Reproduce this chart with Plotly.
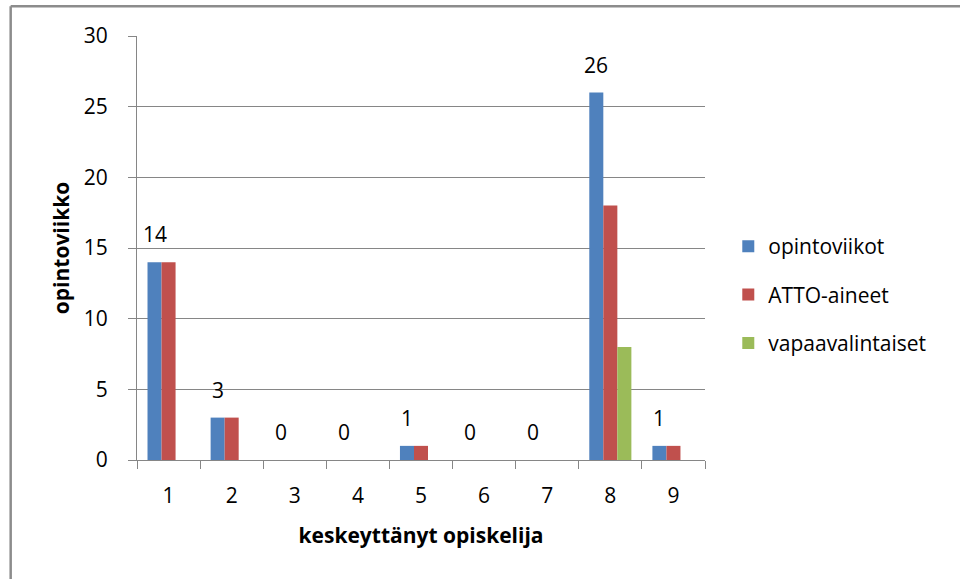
import plotly.graph_objects as go

categories = ["1", "2", "3", "4", "5", "6", "7", "8", "9"]
opintoviikot = [14, 3, 0, 0, 1, 0, 0, 26, 1]
atto_aineet = [14, 3, 0, 0, 1, 0, 0, 18, 1]
vapaavalintaiset = [0, 0, 0, 0, 0, 0, 0, 8, 0]
series_names = ["opintoviikot", "ATTO-aineet", "vapaavalintaiset"]
colors = ["#4F81BD", "#C0504D", "#9BBB59"]
y_ticks = [0, 5, 10, 15, 20, 25, 30]

FONT = "Open Sans"
GRAY = "#868686"

fig = go.Figure()
for i, (name, vals) in enumerate(zip(series_names, [opintoviikot, atto_aineet, vapaavalintaiset])):
    fig.add_trace(go.Bar(
        x=categories, y=vals, name=name,
        marker=dict(color=colors[i], line=dict(width=0)),
        legendgroup=name,
    ))

annotations = []
for idx, v in enumerate(opintoviikot):
    annotations.append(dict(
        x=idx, y=v, xref="x", yref="y", text=str(v), showarrow=False,
        xanchor="center", yanchor="bottom", xshift=-14, yshift=12,
        font=dict(family=FONT, size=21, color="#000000"),
    ))

fig.update_layout(
    width=960, height=579,
    margin=dict(l=137, r=255, t=36, b=119, autoexpand=False),
    paper_bgcolor="white", plot_bgcolor="white",
    barmode="group", bargap=0.333, bargroupgap=0,
    font=dict(family=FONT, size=21, color="#000000"),
    showlegend=True,
    legend=dict(
        x=1.041, xanchor="left", y=0.39, yanchor="middle",
        font=dict(family=FONT, size=21, color="#000000"),
        tracegroupgap=18, bgcolor="rgba(0,0,0,0)",
    ),
    annotations=annotations,
    shapes=[
        dict(type="line", xref="paper", yref="paper", x0=-0.2224, x1=2.0, y0=1.0703, y1=1.0703,
             line=dict(color="#8C8C8C", width=2.5)),
        dict(type="line", xref="paper", yref="paper", x0=-0.2224, x1=-0.2224, y0=1.0703, y1=-1.0,
             line=dict(color="#8C8C8C", width=2.5)),
    ],
)

fig.update_xaxes(
    type="category", categoryorder="array", categoryarray=categories,
    showline=True, linecolor=GRAY, linewidth=1,
    ticks="outside", tickson="boundaries", ticklen=8, tickcolor=GRAY,
    ticklabelstandoff=17,
    tickfont=dict(family=FONT, size=21, color="#000000"),
    showgrid=False, zeroline=False,
    title=dict(text="<b>keskeyttänyt opiskelija</b>", standoff=20,
               font=dict(family=FONT, size=21, color="#000000")),
    automargin=False,
)
fig.update_yaxes(
    range=[0, 30], tickvals=y_ticks,
    showline=True, linecolor=GRAY, linewidth=1,
    ticks="outside", ticklen=8, tickcolor=GRAY,
    ticklabelstandoff=16,
    tickfont=dict(family=FONT, size=21, color="#000000"),
    showgrid=True, gridcolor=GRAY, gridwidth=1, zeroline=False,
    title=dict(text="<b>opintoviikko</b>", standoff=8,
               font=dict(family=FONT, size=21, color="#000000")),
    automargin=False,
)

fig.write_html("out.html", config={"displayModeBar": False},
               post_script="document.body.style.margin='0px';")
